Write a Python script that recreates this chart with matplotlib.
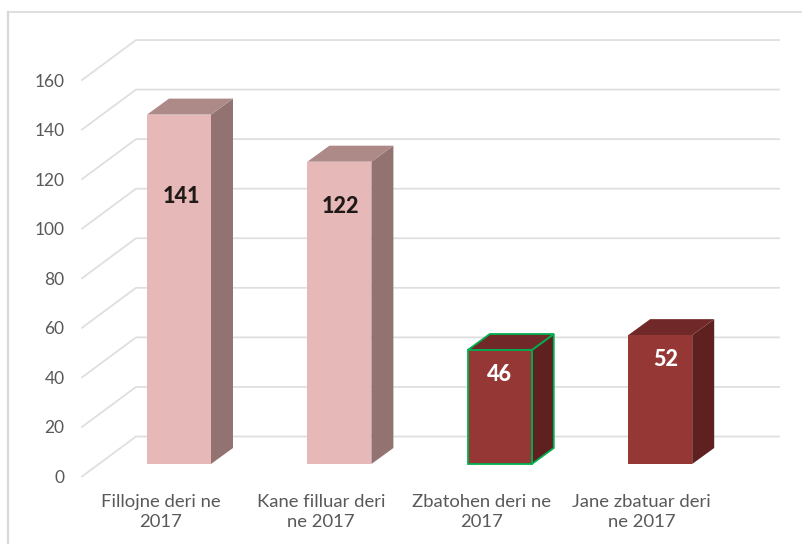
import matplotlib
matplotlib.use("Agg")
import matplotlib.pyplot as plt
from matplotlib.patches import Polygon

categories = ["Fillojne deri ne\n2017", "Kane filluar deri\nne 2017", "Zbatohen deri ne\n2017", "Jane zbatuar deri\nne 2017"]
values = [141, 122, 46, 52]
ticks = [0, 20, 40, 60, 80, 100, 120, 140, 160]

W, H = 803, 544
fig = plt.figure(figsize=(W / 100, H / 100), dpi=100, facecolor="white")
ax = fig.add_axes([0, 0, 1, 1])
plt.rcParams['font.family'] = ['Lato', 'DejaVu Sans']

PX_X = 160.4       # pixels per category
PX_Y = 2.478       # pixels per unit
X0 = 179.0         # pixel of category 0 centre
Y0 = 464.0         # pixel of bar base
ax.set_xlim((0 - X0) / PX_X, (W - X0) / PX_X)
ax.set_ylim((Y0 - H) / PX_Y, Y0 / PX_Y)
ax.axis("off")

dx = lambda p: p / PX_X
dy = lambda p: p / PX_Y

# outer frame
frame = "#d9d9d9"
ax.plot([dx(8 - X0), dx(8 - X0)], [dy(Y0 - H), dy(Y0 - 12)], color=frame, lw=1.6, zorder=1)
ax.plot([dx(8 - X0), dx(W - X0)], [dy(Y0 - 12), dy(Y0 - 12)], color=frame, lw=1.2, zorder=1)

# gridlines on floor and back wall
fx0, fx1, bx1 = dx(82 - X0), dx(136 - X0), dx(779 - X0)
base = dy(Y0 - 476.5)
rise = dy(40)
for t in ticks:
    ax.plot([fx0, fx1, bx1], [base + t, base + t + rise, base + t + rise],
            color="#dedede", lw=1.25, zorder=2, solid_joinstyle="miter")
    ax.text(dx(64.5 - X0), base + t - dy(1.5), str(t), ha="right", va="center",
            fontsize=12.5, color="#595959", zorder=5)

# bars
hw = dx(32)
ox, oy = dx(22), dy(16)
styles = [
    ("#e6b8b7", "#ad8a88", "#937372", None),
    ("#e6b8b7", "#ad8a88", "#937372", None),
    ("#953735", "#702928", "#5f2120", "#00b050"),
    ("#953735", "#702928", "#5f2120", None),
]
label_colors = ["#1f1a17", "#1f1a17", "white", "white"]
label_drop = [81.5, 45, 24.5, 24.5]
label_shift = [2, 1, 0, 6]
for i, (v, st) in enumerate(zip(values, styles)):
    f, t, s, ec = st
    l, r = i - hw, i + hw
    kw = dict(closed=True, zorder=3 + i * 0.01, joinstyle="miter")
    kw.update(edgecolor=ec, linewidth=1.3) if ec else kw.update(edgecolor="none", linewidth=0)
    ax.add_patch(Polygon([(r, 0), (r + ox, oy), (r + ox, v + oy), (r, v)], facecolor=s, **kw))
    ax.add_patch(Polygon([(l, v), (r, v), (r + ox, v + oy), (l + ox, v + oy)], facecolor=t, **kw))
    ax.add_patch(Polygon([(l, 0), (r, 0), (r, v), (l, v)], facecolor=f, **kw))
    ax.text(i + dx(label_shift[i]), v - dy(label_drop[i]), str(v), ha="center", va="center", fontsize=15.5,
            fontweight="black", color=label_colors[i], zorder=6)
    ax.text(i - dx(18.5), dy(Y0 - 512), categories[i], ha="center", va="center", fontsize=13.3,
            color="#595959", linespacing=1.38, zorder=5)

fig.savefig("out.png", dpi=100, facecolor="white")
